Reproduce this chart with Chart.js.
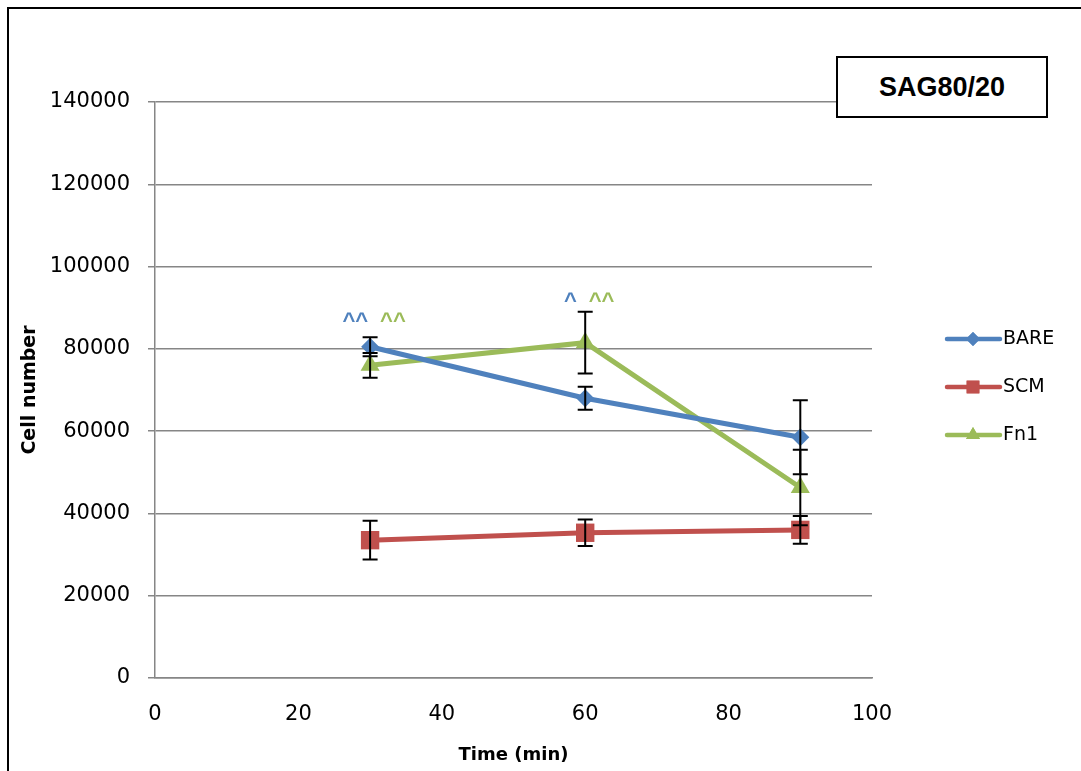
<!DOCTYPE html>
<html>
<head>
<meta charset="utf-8">
<script src="https://cdn.jsdelivr.net/npm/chart.js@4.4.1/dist/chart.umd.min.js"></script>
<style>
  html, body { margin: 0; padding: 0; background: #fff; overflow: hidden; }
  #wrap { position: relative; width: 1081px; height: 771px; }
  #frame { position: absolute; left: 7px; top: 7px; width: 1200px; height: 900px; border: 2px solid #000; box-sizing: border-box; }
  #box {
    position: absolute; left: 836px; top: 56px; width: 212px; height: 62px;
    border: 2px solid #000; box-sizing: border-box; background: #fff;
    font: bold 27px "Liberation Sans", Arial, sans-serif; color: #000;
    display: flex; align-items: center; justify-content: center;
  }
  canvas { position: absolute; left: 0; top: 0; }
</style>
</head>
<body>
<div id="wrap">
  <div id="frame"></div>
  <canvas id="myChart" width="1081" height="771"></canvas>
  <div id="box">SAG80/20</div>
</div>
<script>
(() => {
  'use strict'

  // Data
  const times = [30, 60, 90]
  const bare = [80500, 68000, 58500]
  const bareErr = [2300, 2800, 9000]
  const scm = [33500, 35300, 36000]
  const scmErr = [4700, 3200, 3400]
  const fn1 = [76000, 81500, 46300]
  const fn1Err = [3000, 7500, 9200]

  // significance marks above points
  const markX = [30, 60]
  const markY = [87900, 92900]
  const markBare = ['^^', '^']
  const markFn1 = ['^^', '^^']

  const blue = '#4F81BD'
  const red = '#C0504D'
  const green = '#9BBB59'
  const font = '"DejaVu Sans", sans-serif'

  const series = [
    { label: 'BARE', values: bare, err: bareErr, color: blue, style: 'rectRot', radius: 9, legendRadius: 7 },
    { label: 'SCM', values: scm, err: scmErr, color: red, style: 'rect', radius: 13, legendRadius: 9 },
    { label: 'Fn1', values: fn1, err: fn1Err, color: green, style: 'triangle', radius: 11, legendRadius: 8 }
  ]

  const errorBars = {
    id: 'errorBars',
    afterDatasetsDraw (chart) {
      const { ctx, scales: { x, y } } = chart
      ctx.save()
      ctx.strokeStyle = '#000'
      ctx.lineWidth = 2
      series.forEach(s => {
        s.values.forEach((v, i) => {
          const px = x.getPixelForValue(times[i])
          const top = y.getPixelForValue(v + s.err[i])
          const bot = y.getPixelForValue(v - s.err[i])
          ctx.beginPath()
          ctx.moveTo(px, top); ctx.lineTo(px, bot)
          ctx.moveTo(px - 7.5, top); ctx.lineTo(px + 7.5, top)
          ctx.moveTo(px - 7.5, bot); ctx.lineTo(px + 7.5, bot)
          ctx.stroke()
        })
      })
      ctx.restore()
    }
  }

  const marks = {
    id: 'marks',
    afterDraw (chart) {
      const { ctx, scales: { x, y } } = chart
      ctx.save()
      ctx.font = 'bold 22px "Liberation Sans", Arial, sans-serif'
      ctx.textBaseline = 'alphabetic'
      ctx.textAlign = 'left'
      markX.forEach((t, i) => {
        const px = x.getPixelForValue(t) + 4
        const py = y.getPixelForValue(markY[i]) + 12
        const gap = 12
        const wb = ctx.measureText(markBare[i]).width
        const wg = ctx.measureText(markFn1[i]).width
        const start = px - (wb + gap + wg) / 2
        ctx.fillStyle = blue
        ctx.fillText(markBare[i], start, py)
        ctx.fillStyle = green
        ctx.fillText(markFn1[i], start + wb + gap, py)
      })
      ctx.restore()
    }
  }

  const legendBox = {
    id: 'legendBox',
    afterDraw (chart) {
      const { ctx } = chart
      ctx.save()
      series.forEach((s, i) => {
        const cy = 339 + i * 48
        ctx.strokeStyle = s.color
        ctx.lineWidth = 4.5
        ctx.lineCap = 'round'
        ctx.beginPath()
        ctx.moveTo(947, cy); ctx.lineTo(1000, cy)
        ctx.stroke()
        ctx.fillStyle = s.color
        Chart.helpers.drawPoint(ctx, { pointStyle: s.style, radius: s.legendRadius, borderWidth: 0 }, 973, cy)
        ctx.fill()
        ctx.fillStyle = '#000'
        ctx.font = '19px ' + font
        ctx.textAlign = 'left'
        ctx.textBaseline = 'middle'
        ctx.fillText(s.label, 1003, cy)
      })
      ctx.restore()
    }
  }

  const ctx = document.getElementById('myChart')
  // eslint-disable-next-line no-unused-vars
  const myChart = new Chart(ctx, {
    type: 'line',
    data: {
      datasets: series.map(s => ({
        label: s.label,
        data: times.map((t, i) => ({ x: t, y: s.values[i] })),
        borderColor: s.color,
        backgroundColor: s.color,
        borderWidth: 5,
        pointStyle: s.style,
        pointRadius: s.radius,
        pointBorderWidth: 0,
        tension: 0
      }))
    },
    options: {
      responsive: false,
      animation: false,
      layout: { padding: { left: 15, top: 102, right: 209, bottom: 1 } },
      plugins: { legend: { display: false }, tooltip: { enabled: false } },
      scales: {
        x: {
          type: 'linear',
          min: 0,
          max: 100,
          ticks: { stepSize: 20, color: '#000', font: { family: font, size: 21 }, padding: 17 },
          grid: { display: false, drawTicks: true, tickLength: 7, color: '#868686' },
          border: { color: '#868686', width: 1.5 },
          title: { display: true, text: 'Time (min)', color: '#000', font: { family: font, size: 18, weight: 'bold' }, padding: { top: 8 } },
          afterFit (scale) { scale.height = 771 - 678 - 1 }
        },
        y: {
          min: 0,
          max: 140000,
          ticks: { stepSize: 20000, color: '#000', font: { family: font, size: 21 }, padding: 18, callback: v => String(v) },
          grid: { color: '#868686', lineWidth: 1.5, tickLength: 7 },
          border: { color: '#868686', width: 1.5 },
          title: { display: true, text: 'Cell number', color: '#000', font: { family: font, size: 19, weight: 'bold' }, padding: { bottom: 8 } },
          afterFit (scale) { scale.width = 155 - 15 }
        }
      }
    },
    plugins: [errorBars, marks, legendBox]
  })
})()
</script>
</body>
</html>
